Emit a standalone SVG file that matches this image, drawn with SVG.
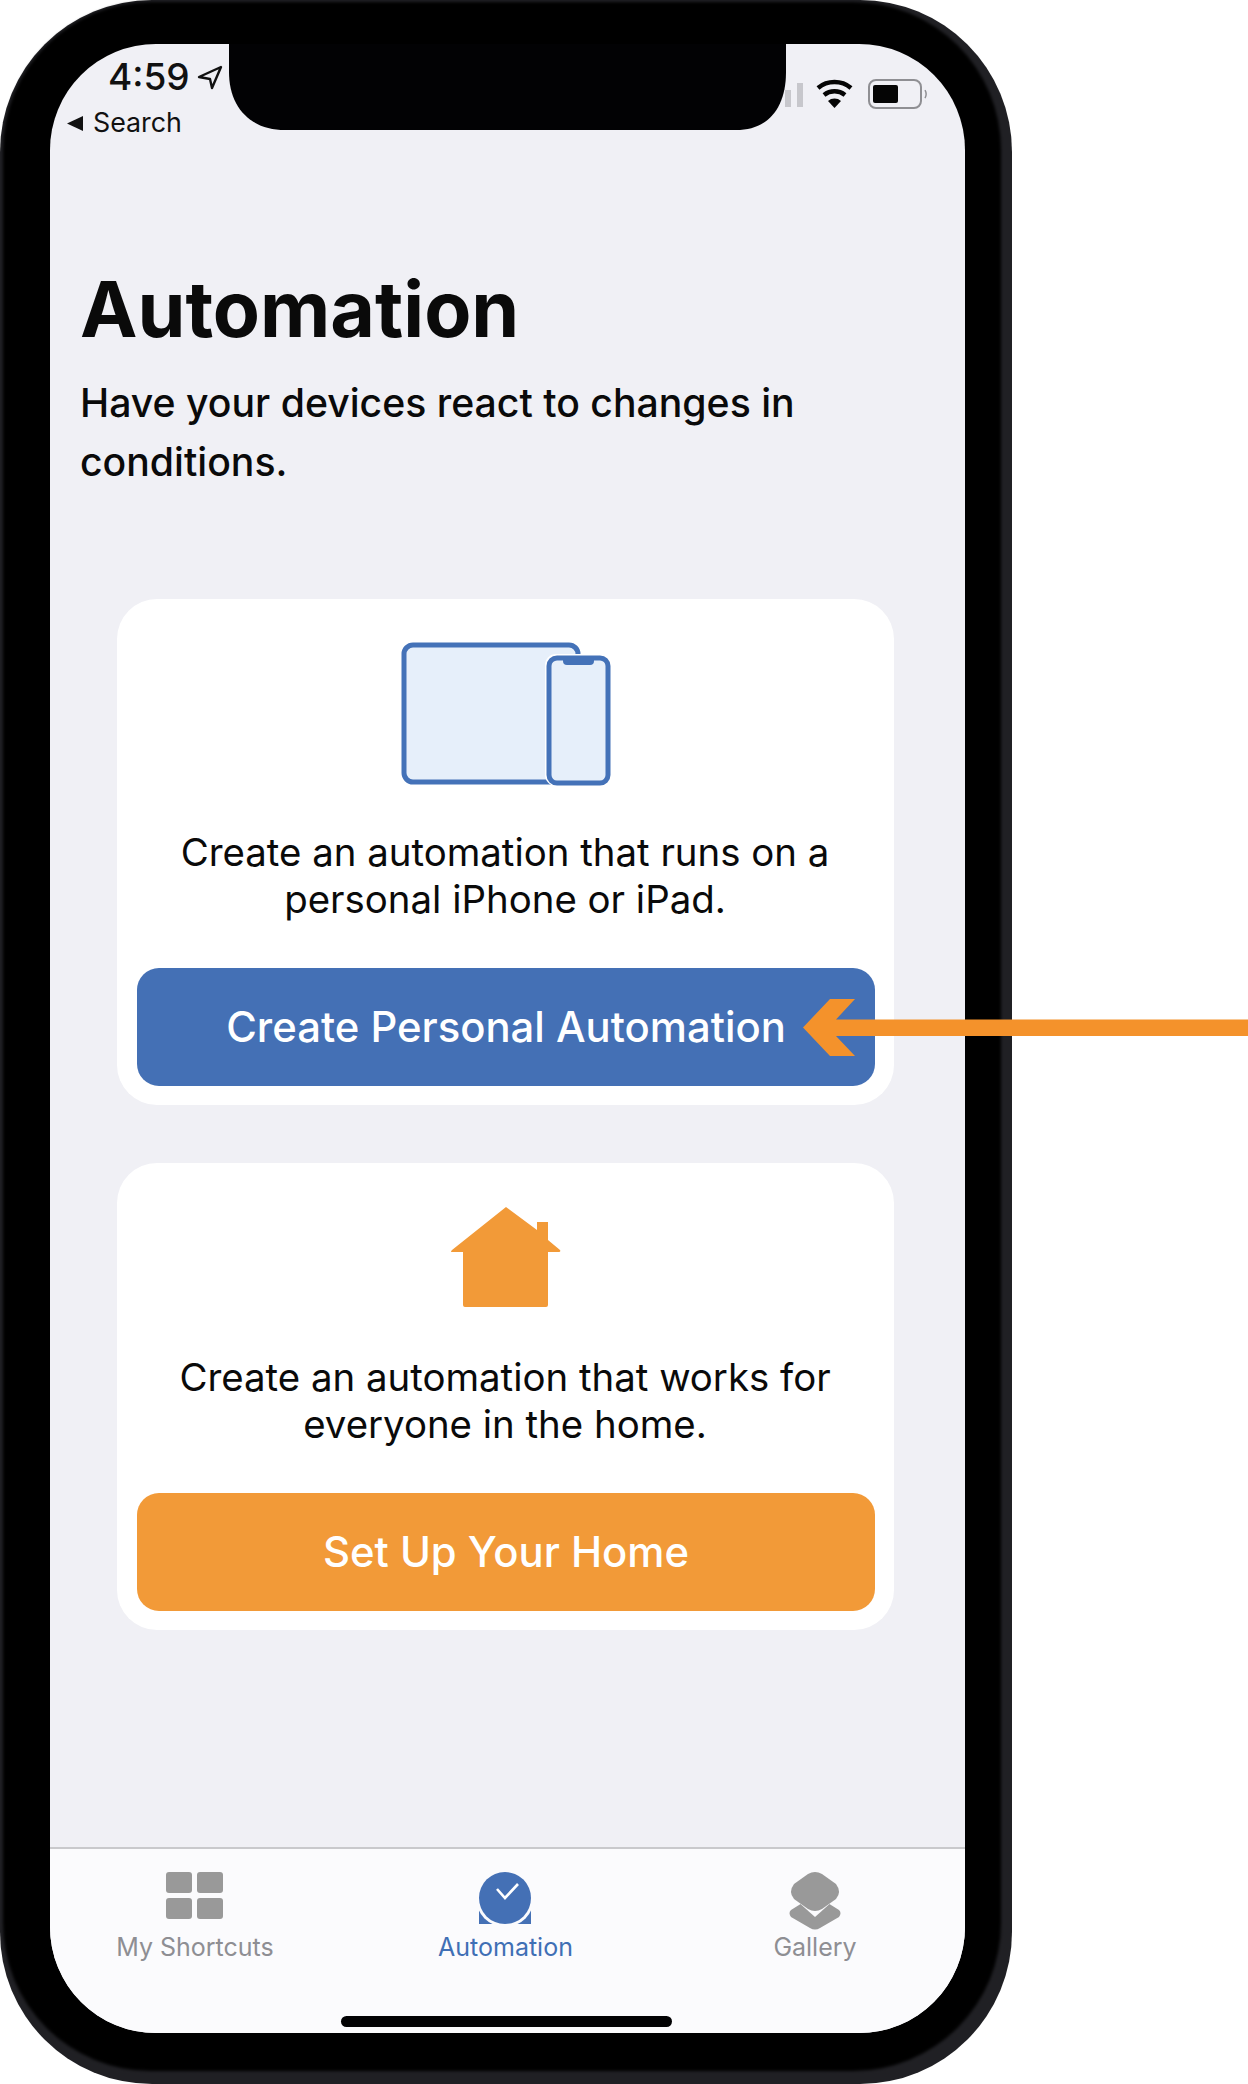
<svg xmlns="http://www.w3.org/2000/svg" width="1248" height="2084" viewBox="0 0 1248 2084">
<defs>
<filter id="soft" x="-2%" y="-2%" width="104%" height="104%"><feGaussianBlur stdDeviation="1.6"/></filter>
<clipPath id="screenClip"><rect x="50" y="44" width="915" height="1989" rx="106" ry="106"/></clipPath>
</defs>
<style>
text{font-family:Inter,"Liberation Sans",sans-serif}
.body{font-size:38.400px;fill:#0a0a0a;text-anchor:middle}
.btn{font-size:41.800px;font-weight:500;fill:#fff;text-anchor:middle}
.sub{font-size:39.200px;font-weight:500;fill:#0a0a0a}
.tab{font-size:25px;text-anchor:middle;fill:#8e8e93}
.card{fill:#fff}
.grey{fill:#999}
</style>
<rect width="1248" height="2084" fill="#fff"/>
<g id="phone">
<rect x="0" y="0" width="1012" height="2084" rx="152" ry="152" fill="#202024"/>
<rect x="3" y="2" width="998" height="2069" rx="148" ry="148" fill="#020204" filter="url(#soft)"/>
<rect x="50" y="44" width="915" height="1989" rx="106" ry="106" fill="#f0f0f5"/>
<rect x="50" y="1848" width="915" height="190" fill="#fbfbfd" clip-path="url(#screenClip)"/>
<rect x="50" y="1847" width="915" height="2" fill="#c9c9cc"/>
</g>
<g id="status-bar">
<text x="108" y="90" font-size="37" font-weight="500" fill="#111">4:59</text>
<path d="M221 67 L199 77 L210 79 L212 88 Z" fill="none" stroke="#111" stroke-width="2.400" stroke-linejoin="round"/>
<path d="M67 123.500 L83 116 L83 131 Z" fill="#111"/>
<text x="93" y="132" font-size="26.800" fill="#111">Search</text>
<rect x="785" y="90" width="6" height="17" fill="#c7c7cc"/>
<rect x="797" y="83" width="6" height="24" fill="#c7c7cc"/>
<g fill="none" stroke="#050505" stroke-width="4.500">
<path d="M818 88 A26 26 0 0 1 851 88"/>
<path d="M824 95 A17 17 0 0 1 845 95"/>
</g>
<path d="M828 101 A10 10 0 0 1 841 101 L834.500 108 Z" fill="#050505"/>
<rect x="869" y="80" width="52" height="28" rx="7" fill="none" stroke="#8f8f93" stroke-width="2"/>
<rect x="873" y="85" width="25" height="18" rx="2" fill="#050505"/>
<path d="M925 90 A8 8 0 0 1 925 98" fill="none" stroke="#8f8f93" stroke-width="1.500"/>
</g>
<g id="notch">
<path d="M229 44 H786 V72 C786 108 768 130 736 130 H285 C251 130 229 108 229 72 Z" fill="#020204"/>
</g>
<g id="heading">
<text x="80" y="337" font-size="77" font-weight="700" fill="#0a0a0a">Automation</text>
<text class="sub" x="80" y="417">Have your devices react to changes in</text>
<text class="sub" x="80" y="476">conditions.</text>
</g>
<g id="personal-card">
<rect class="card" x="117" y="599" width="777" height="506" rx="40"/>
<rect x="404" y="645" width="174" height="137" rx="9" fill="#e6effa" stroke="#4472b8" stroke-width="5"/>
<rect x="545" y="654" width="67" height="132" rx="11" fill="#fff"/>
<rect x="549" y="658" width="59" height="125" rx="8" fill="#e6effa" stroke="#4472b8" stroke-width="5"/>
<path d="M563 658 H594 V661 Q594 665 590 665 H567 Q563 665 563 661 Z" fill="#4472b8"/>
<text class="body" x="505" y="866">Create an automation that runs on a</text>
<text class="body" x="505" y="913">personal iPhone or iPad.</text>
<rect x="137" y="968" width="738" height="118" rx="22" fill="#4470b5"/>
<text class="btn" x="506" y="1042">Create Personal Automation</text>
</g>
<g id="home-card">
<rect class="card" x="117" y="1163" width="777" height="467" rx="40"/>
<path d="M506 1207 L537 1230 V1222 H548 V1240 L560 1250 Q561 1252 559 1252 H548 V1305 Q548 1307 546 1307 H465 Q463 1307 463 1305 V1252 H452 Q450 1252 452 1250 Z" fill="#f29a38"/>
<text class="body" x="505" y="1391">Create an automation that works for</text>
<text class="body" x="505" y="1438">everyone in the home.</text>
<rect x="137" y="1493" width="738" height="118" rx="22" fill="#f29a38"/>
<text class="btn" x="506" y="1567">Set Up Your Home</text>
</g>
<g id="tab-shortcuts">
<rect class="grey" x="166" y="1872" width="26" height="21" rx="3"/>
<rect class="grey" x="197" y="1872" width="26" height="21" rx="3"/>
<rect class="grey" x="166" y="1898" width="26" height="21" rx="3"/>
<rect class="grey" x="197" y="1898" width="26" height="21" rx="3"/>
<text class="tab" x="195" y="1956">My Shortcuts</text>
</g>
<g id="tab-automation">
<rect x="479" y="1904" width="52" height="20" fill="#4470b5"/>
<circle cx="505" cy="1898" r="29" fill="#fbfbfd"/>
<circle cx="505" cy="1898" r="26" fill="#4470b5"/>
<path d="M497 1889 L505 1898 L518 1884" fill="none" stroke="#fff" stroke-width="2.600"/>
<text class="tab" x="505.500" y="1956" style="fill:#3f6fb5">Automation</text>
</g>
<g id="tab-gallery">
<path d="M815 1895 L839 1910 Q842 1913 839 1917 L820 1928 Q815 1931 810 1928 L791 1917 Q788 1913 791 1910 Z" class="grey"/>
<path d="M815 1868 L843 1892 L815 1917 L787 1892 Z" fill="#fbfbfd"/>
<path d="M808 1874 Q815 1870 822 1874 L836 1884 Q842 1892 836 1899 L822 1909 Q815 1913 808 1909 L794 1899 Q788 1892 794 1884 Z" class="grey"/>
<text class="tab" x="815" y="1956">Gallery</text>
</g>
<g id="home-indicator">
<rect x="341" y="2016" width="331" height="11" rx="5.500" fill="#020204"/>
</g>
<g id="connectors">
<path d="M1248 1019.500 H836 L855 999 H830 L803 1027.500 L830 1056 H855 L836 1036 H1248 Z" fill="#f4922b"/>
</g>
</svg>
